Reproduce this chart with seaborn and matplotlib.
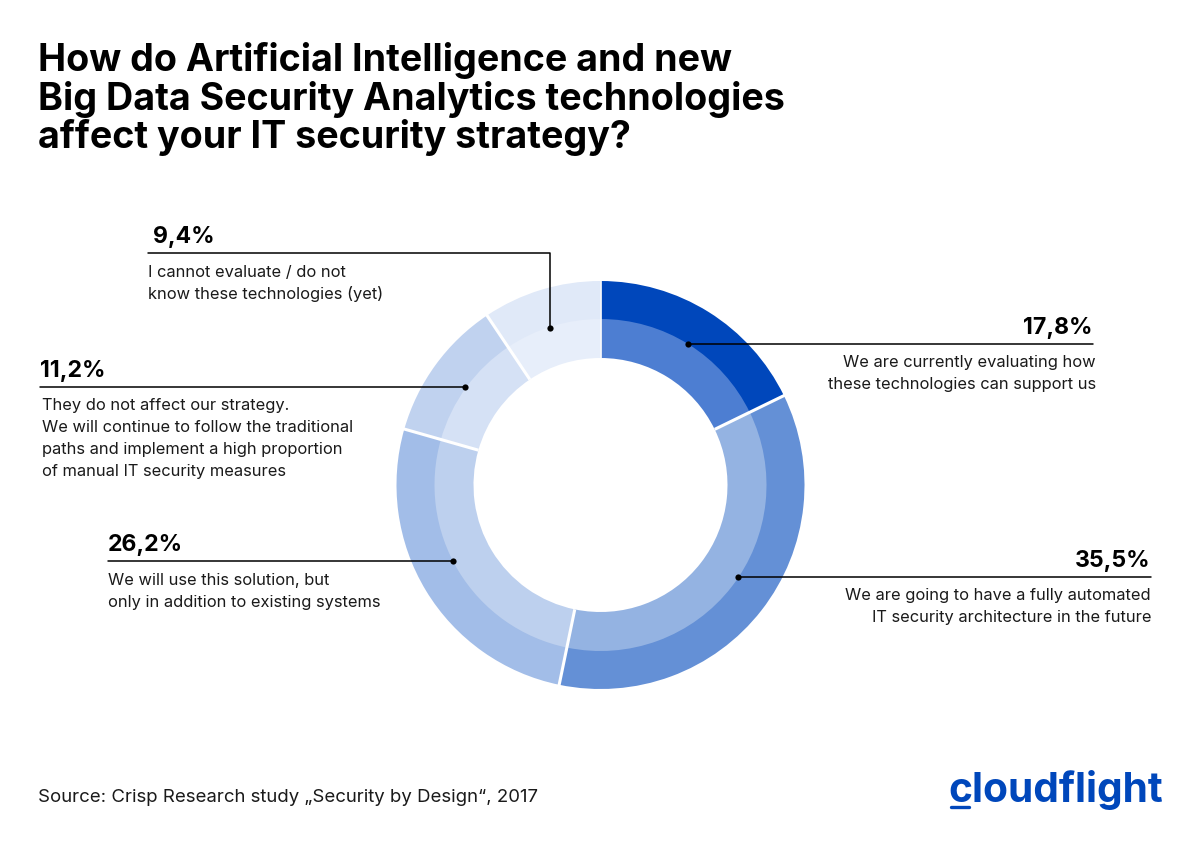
import matplotlib
matplotlib.use("Agg")
import matplotlib.pyplot as plt
import numpy as np
import seaborn as sns

# values in clockwise order from 12 o'clock
values = [17.8, 35.5, 26.2, 11.2, 9.4]
value_labels = ["17,8%", "35,5%", "26,2%", "11,2%", "9,4%"]
answers = [
    ["We are currently evaluating how", "these technologies can support us"],
    ["We are going to have a fully automated", "IT security architecture in the future"],
    ["We will use this solution, but", "only in addition to existing systems"],
    ["They do not affect our strategy.", "We will continue to follow the traditional",
     "paths and implement a high proportion", "of manual IT security measures"],
    ["I cannot evaluate / do not", "know these technologies (yet)"],
]
outer_colors = ["#0047BB", "#6490D6", "#A2BDE8", "#C0D2EF", "#E0E9F8"]
inner_colors = ["#4D7ED2", "#94B3E2", "#BDD0EE", "#D5E1F5", "#E7EEFA"]
title_lines = ["How do Artificial Intelligence and new",
               "Big Data Security Analytics technologies",
               "affect your IT security strategy?"]
source = "Source: Crisp Research study \u201eSecurity by Design\u201c, 2017"

sns.set_theme(style="white")
plt.rcParams["font.family"] = ["Inter", "DejaVu Sans"]

W, H = 1200, 847
fig = plt.figure(figsize=(W / 100, H / 100), dpi=100, facecolor="white")
ax = fig.add_axes([0, 0, 1, 1])


def Y(y):
    # picture pixels run downwards
    return H - y


cx, cy = 600.5, Y(485)
ax.pie(values, colors=outer_colors, radius=204, center=(cx, cy), startangle=90,
       counterclock=False, normalize=True, wedgeprops=dict(width=39, linewidth=0))
ax.pie(values, colors=inner_colors, radius=166, center=(cx, cy), startangle=90,
       counterclock=False, normalize=True, wedgeprops=dict(width=39, linewidth=0))
ax.set_xlim(0, W)
ax.set_ylim(0, H)
ax.set_aspect("equal")
ax.axis("off")

# white gaps between the slices
shares = np.cumsum([0] + values[:-1]) / sum(values)
for i, share in enumerate(shares):
    ang = 2 * np.pi * share
    ax.plot([cx + 127 * np.sin(ang), cx + 205 * np.sin(ang)],
            [cy + 127 * np.cos(ang), cy + 205 * np.cos(ang)],
            color="white", lw=2.2 if i else 1.2, solid_capstyle="butt", zorder=3)

# leader line paths (dot first), label x, align, text x
leaders = [
    dict(path=[(688, 344), (1093, 344)], lx=1093, ha="right", tx=1096, top=352),
    dict(path=[(738, 576.5), (1151, 576.5)], lx=1151, ha="right", tx=1151, top=585),
    dict(path=[(453, 561), (108, 561)], lx=108, ha="left", tx=108, top=570),
    dict(path=[(465, 387), (40, 387)], lx=40, ha="left", tx=42, top=395),
    dict(path=[(550, 328), (550, 253), (148, 253)], lx=153, ha="left", tx=148, top=262),
]
for lab, txt, ld in zip(value_labels, answers, leaders):
    xs, ys = zip(*ld["path"])
    ax.plot(xs, [Y(y) for y in ys], color="black", lw=1.1, zorder=4)
    ax.scatter([xs[0]], [Y(ys[0])], s=20, color="black", linewidth=0, zorder=5)
    ax.text(ld["lx"], Y(ld["path"][-1][1] - 10), lab, fontsize=16.6, fontweight="bold",
            ha=ld["ha"], va="baseline", color="black")
    for j, line in enumerate(txt):
        ax.text(ld["tx"], Y(ld["top"] + 15 + j * 22), line, fontsize=11.85,
                ha=ld["ha"], va="baseline", color="#1a1a1a")

for i, line in enumerate(title_lines):
    ax.text(38, Y(71 + i * 38.5), line, fontsize=27.1, fontweight="bold",
            ha="left", va="baseline", color="black")

ax.text(38, Y(802), source, fontsize=13.4, ha="left", va="baseline", color="#1a1a1a")

# logo
ax.text(948, Y(802), "cloudflight", fontsize=29.3, fontweight="bold",
        ha="left", va="baseline", color="#0047BB")
ax.plot([951, 969], [Y(807), Y(807)], color="#0047BB", lw=2.4, solid_capstyle="round")

fig.savefig("out.png", dpi=100)
